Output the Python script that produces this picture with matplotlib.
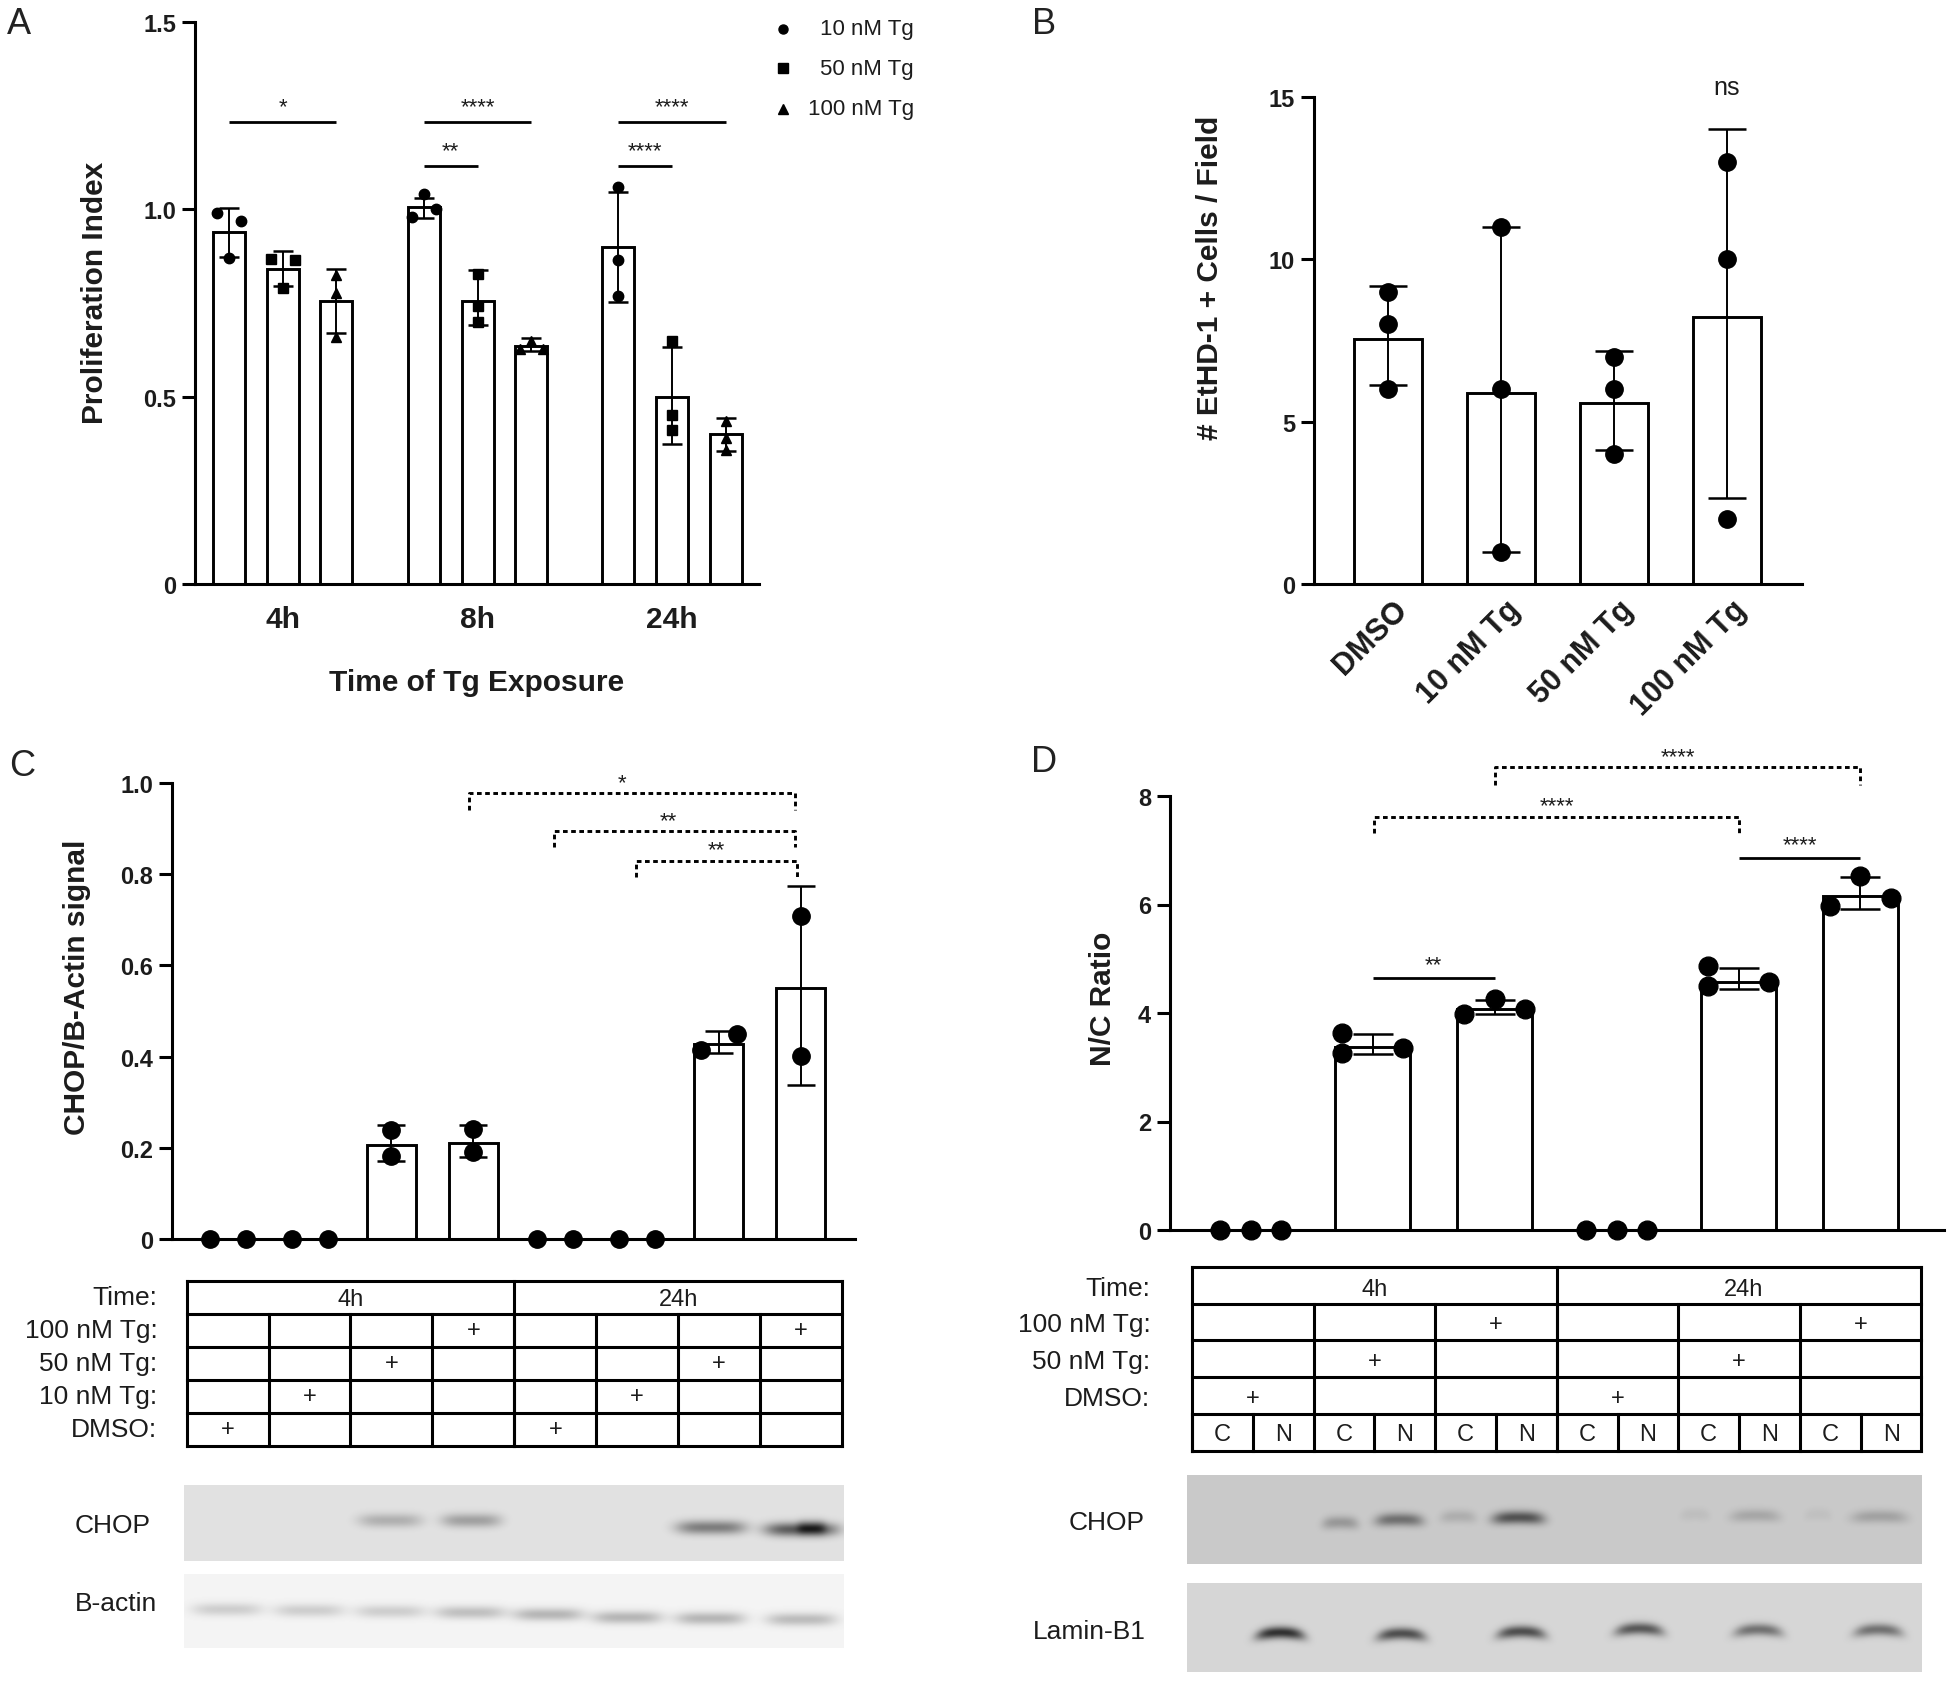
import numpy as np
import matplotlib
matplotlib.use('Agg')
import matplotlib.pyplot as plt

plt.rcParams['font.family'] = ['Liberation Sans', 'DejaVu Sans']

W, H = 1950, 1683
TXT = '#1c1c1c'

# Panel A
a_x = [0, 1, 2, 3.63, 4.63, 5.63, 7.25, 8.25, 9.25]
a_means = [0.94, 0.84, 0.755, 1.005, 0.755, 0.635, 0.90, 0.50, 0.40]
a_low = [0.874, 0.795, 0.67, 0.978, 0.69, 0.623, 0.752, 0.375, 0.354]
a_high = [1.004, 0.888, 0.841, 1.03, 0.837, 0.656, 1.045, 0.632, 0.444]
a_points = [[0.99, 0.97, 0.87], [0.868, 0.866, 0.791], [0.825, 0.776, 0.66],
            [1.04, 1.0, 0.98], [0.828, 0.742, 0.70], [0.648, 0.627, 0.627],
            [1.06, 0.866, 0.77], [0.648, 0.45, 0.41], [0.436, 0.389, 0.358]]
a_offsets = [[-0.22, 0.22, 0], [-0.22, 0.22, 0], [0, 0, 0],
             [0, 0.22, -0.22], [0, 0, 0], [0, -0.22, 0.22],
             [0, 0, 0], [0, 0, 0], [0, 0, 0]]
a_markers = ['o', 's', '^'] * 3
a_groups = ['4h', '8h', '24h']
a_group_x = [1, 4.63, 8.25]
a_sig = [(0, 2, 1.233, '*'), (3.63, 5.63, 1.233, '****'), (7.25, 9.25, 1.233, '****'),
         (3.63, 4.63, 1.116, '**'), (7.25, 8.25, 1.116, '****')]
legend_labels = ['10 nM Tg', '50 nM Tg', '100 nM Tg']

# Panel B
b_labels = ['DMSO', '10 nM Tg', '50 nM Tg', '100 nM Tg']
b_means = [7.56, 5.89, 5.57, 8.22]
b_low = [6.12, 0.99, 4.12, 2.64]
b_high = [9.19, 11, 7.19, 14]
b_points = [[9, 8, 6], [11, 6, 1], [7, 6, 4], [13, 10, 2]]

# Panel C
c_means = [0, 0, 0.206, 0.21, 0, 0, 0.428, 0.55]
c_low = [0, 0, 0.17, 0.18, 0, 0, 0.407, 0.338]
c_high = [0, 0, 0.251, 0.251, 0, 0, 0.457, 0.774]
c_points = [[0, 0], [0, 0], [0.238, 0.183], [0.241, 0.19],
            [0, 0], [0, 0], [0.415, 0.45], [0.709, 0.402]]
c_offsets = [[-0.22, 0.22], [-0.22, 0.22], [0, 0], [0, 0],
             [-0.22, 0.22], [-0.22, 0.22], [-0.22, 0.22], [0, 0]]
# left, right, height, end of the drop, star x, stars
c_sig = [(2.95, 6.93, 0.977, 0.94, 4.82, '*'), (3.99, 6.93, 0.895, 0.859, 5.39, '**'),
         (4.99, 6.96, 0.83, 0.793, 5.97, '**')]

# Panel D
d_means = [0, 3.365, 4.07, 0, 4.58, 6.16]
d_low = [0, 3.24, 3.98, 0, 4.44, 5.92]
d_high = [0, 3.62, 4.24, 0, 4.83, 6.5]
d_points = [[0, 0, 0], [3.63, 3.27, 3.35], [3.98, 4.25, 4.08],
            [0, 0, 0], [4.86, 4.49, 4.57], [5.97, 6.53, 6.12]]
d_offsets = [[-0.25, 0, 0.25], [-0.25, -0.25, 0.25], [-0.25, 0, 0.25],
             [-0.25, 0, 0.25], [-0.25, -0.25, 0.25], [-0.25, 0, 0.25]]
d_dashed = [(2, 5, 8.53, 8.21, 3.5, '****'), (1.01, 4, 7.62, 7.32, 2.51, '****')]
d_solid = [(1, 2, 4.64, '**'), (4, 5, 6.86, '****')]

# Tables
table_c_rows = ['Time:', '100 nM Tg:', '50 nM Tg:', '10 nM Tg:', 'DMSO:']
table_c_plus = [[3, 7], [2, 6], [1, 5], [0, 4]]
table_d_rows = ['Time:', '100 nM Tg:', '50 nM Tg:', 'DMSO:']
table_d_plus = [[2, 5], [1, 4], [0, 3]]
table_times = ['4h', '24h']
table_c_time_x = [2, 6]
table_d_time_x = [1.5, 4.54]
fractions = ['C', 'N']

# Blots: band centre x, centre y, half width, darkness
c_chop_x = [390, 471, 711, 801, 811]
c_chop_y = [1521, 1521, 1528, 1530, 1528]
c_chop_w = [32, 30, 35, 37, 14]
c_chop_dark = [50, 65, 100, 135, 70]
c_actin_x = [227, 309, 390, 470, 548, 627, 710, 801]
c_actin_y = [1610, 1611, 1612, 1613, 1615, 1618, 1619, 1620]
c_actin_dark = [38, 38, 38, 52, 62, 62, 62, 56]
d_chop_x = [1340, 1399, 1458, 1518, 1695, 1755, 1818, 1879]
d_chop_y = [1523, 1520, 1517, 1518, 1515, 1516, 1515, 1517]
d_chop_w = [18, 24, 18, 26, 15, 25, 14, 28]
d_chop_dark = [50, 90, 28, 120, 12, 35, 10, 40]
d_lamin_x = [1280, 1401, 1521, 1639, 1758, 1878]
d_lamin_y = [1633, 1634, 1632, 1629, 1630, 1630]
d_lamin_dark = [165, 135, 135, 125, 100, 100]

fig = plt.figure(figsize=(W / 100, H / 100), dpi=100)


def px_axes(left, top, right, bottom):
    ax = fig.add_axes([left / W, 1 - bottom / H, (right - left) / W, (bottom - top) / H])
    return ax


def style_axis(ax, yticks, ylabels):
    for s in ['top', 'right']:
        ax.spines[s].set_visible(False)
    for s in ['left', 'bottom']:
        ax.spines[s].set_linewidth(2.2)
    ax.set_yticks(yticks)
    ax.set_yticklabels(ylabels, fontsize=17, fontweight='bold', color=TXT)
    ax.tick_params(axis='y', length=9.5, width=2.2, pad=4)
    ax.tick_params(axis='x', length=0)
    ax.patch.set_alpha(0)


def draw_bars(ax, x, means, low, high, points, offsets, markers, ms, width, cap):
    x = np.array(x, dtype=float)
    means = np.array(means, dtype=float)
    low = np.array(low, dtype=float)
    high = np.array(high, dtype=float)
    ax.bar(x, means, width=width, color='white', edgecolor='black', linewidth=2.1)
    keep = means > 0
    ax.errorbar(x[keep], means[keep], yerr=[means[keep] - low[keep], high[keep] - means[keep]],
                fmt='none', ecolor='black', elinewidth=1.4, capsize=cap, capthick=1.8, zorder=4)
    for i in range(len(x)):
        xs = x[i] + np.array(offsets[i])
        ax.plot(xs, points[i], linestyle='none', marker=markers[i], ms=ms, color='black',
                mec='black', clip_on=False, zorder=6)


def stars(ax, x, y, label, lift):
    ax.annotate(label, (x, y), xytext=(0, lift), textcoords='offset points', ha='center',
                va='baseline', fontsize=16, color=TXT, annotation_clip=False)


def solid_bar(ax, x0, x1, y, label, lift):
    ax.plot([x0, x1], [y, y], color='black', lw=2, clip_on=False, solid_capstyle='butt')
    stars(ax, (x0 + x1) / 2, y, label, lift)


def dashed_bracket(ax, x0, x1, y, y_end, star_x, label, lift):
    ax.plot([x0, x0, x1, x1], [y_end, y, y, y_end], color='black', lw=2.1,
            dashes=(1.6, 1.2), clip_on=False)
    stars(ax, star_x, y, label, lift)


def draw_table(box, n_cols, rows, plus, times, time_x, label_gap, nudge=0.0, extra=None):
    ax = px_axes(*box)
    n_rows = len(rows) + (1 if extra else 0)
    ax.set_xlim(0, n_cols)
    ax.set_ylim(n_rows, 0)
    ax.axis('off')
    lw = 2.2
    for r in range(n_rows + 1):
        ax.plot([0, n_cols], [r, r], color='black', lw=lw, clip_on=False, solid_capstyle='projecting')
    ax.plot([0, 0], [0, n_rows], color='black', lw=lw, clip_on=False)
    ax.plot([n_cols, n_cols], [0, n_rows], color='black', lw=lw, clip_on=False)
    ax.plot([n_cols / 2, n_cols / 2], [0, n_rows], color='black', lw=lw, clip_on=False)
    for c in range(1, n_cols):
        ax.plot([c, c], [1, len(rows)], color='black', lw=lw, clip_on=False)
    for t, x in zip(times, time_x):
        ax.text(x, 0.54 + nudge, t, ha='center', va='center', fontsize=17, color=TXT)
    for r, label in enumerate(rows):
        ax.annotate(label, (0, r + 0.5 + nudge), xytext=(label_gap, 0), textcoords='offset points',
                    ha='right', va='center', fontsize=19, color=TXT, annotation_clip=False)
    for r, cols in enumerate(plus):
        for c in cols:
            ax.text(c + 0.5, r + 1.5 + nudge, '+', ha='center', va='center', fontsize=17, color=TXT)
    if extra:
        r = len(rows)
        for c in range(n_cols):
            ax.plot([c, c], [r, r + 1], color='black', lw=lw, clip_on=False)
            ax.plot([c + 0.5, c + 0.5], [r, r + 1], color='black', lw=lw, clip_on=False)
            for j, f in enumerate(extra):
                ax.text(c + 0.25 + 0.5 * j, r + 0.5 + nudge, f, ha='center', va='center', fontsize=17, color=TXT)
    return ax


def draw_blot(box, bg, xs, ys, widths, darks, hh, arch=0.0):
    left, top, right, bottom = box
    ax = px_axes(*box)
    gx, gy = np.meshgrid(np.arange(left, right), np.arange(top, bottom))
    img = np.full(gx.shape, float(bg))
    for x0, y0, w, d in zip(xs, ys, widths, darks):
        u = (gx - x0) / w
        img -= d * np.exp(-u ** 4) * np.exp(-((gy - y0 - arch * u ** 2) / hh) ** 2)
    ax.imshow(np.clip(img, 0, 255), cmap='gray', vmin=0, vmax=255, aspect='auto',
              extent=(left, right, bottom, top), interpolation='bilinear')
    ax.axis('off')


# A
ax_a = px_axes(195, 23, 759, 585)
ax_a.set_xlim(-0.633, 9.87)
ax_a.set_ylim(0, 1.5)
style_axis(ax_a, [0, 0.5, 1.0, 1.5], ['0', '0.5', '1.0', '1.5'])
draw_bars(ax_a, a_x, a_means, a_low, a_high, a_points, a_offsets, a_markers, 7.5, 0.6, 7.2)
ax_a.set_xticks(a_group_x)
ax_a.set_xticklabels(a_groups, fontsize=21.5, fontweight='bold', color=TXT)
ax_a.tick_params(axis='x', pad=15)
ax_a.set_xlabel('Time of Tg Exposure', fontsize=21.5, fontweight='bold', color=TXT, labelpad=25)
ax_a.set_ylabel('Proliferation Index', fontsize=21.5, fontweight='bold', color=TXT)
ax_a.yaxis.set_label_coords(-0.152, 0.52)
for x0, x1, y, label in a_sig:
    solid_bar(ax_a, x0, x1, y, label, 7)

# B
ax_b = px_axes(1314, 98, 1802, 585)
ax_b.set_xlim(-0.656, 3.665)
ax_b.set_ylim(0, 15)
style_axis(ax_b, [0, 5, 10, 15], ['0', '5', '10', '15'])
b_x = list(range(len(b_means)))
draw_bars(ax_b, b_x, b_means, b_low, b_high, b_points, [[0, 0, 0]] * 4, ['o'] * 4, 12.5, 0.6, 13.7)
ax_b.set_xticks([])
for i, label in enumerate(b_labels):
    ax_b.annotate(label, (i, 0), xytext=(3, -7), textcoords='offset points', ha='right', va='top',
                  rotation=45, rotation_mode='anchor', fontsize=22, fontweight='bold', color=TXT,
                  annotation_clip=False)
ax_b.set_ylabel('# EtHD-1 + Cells / Field', fontsize=21.5, fontweight='bold', color=TXT)
ax_b.yaxis.set_label_coords(-0.185, 0.63)
ax_b.text(3, 15.3, 'ns', ha='center', va='center', fontsize=18, color=TXT, clip_on=False)

# C
ax_c = px_axes(172, 784, 855, 1240)
ax_c.set_xlim(-0.683, 7.666)
ax_c.set_ylim(0, 1.0)
style_axis(ax_c, [0, 0.2, 0.4, 0.6, 0.8, 1.0], ['0', '0.2', '0.4', '0.6', '0.8', '1.0'])
c_x = list(range(len(c_means)))
draw_bars(ax_c, c_x, c_means, c_low, c_high, c_points, c_offsets, ['o'] * 8, 12.5, 0.6, 10.4)
ax_c.set_xticks([])
ax_c.set_ylabel('CHOP/B-Actin signal', fontsize=21.5, fontweight='bold', color=TXT)
ax_c.yaxis.set_label_coords(-0.118, 0.555)
for x0, x1, y, y_end, star_x, label in c_sig:
    dashed_bracket(ax_c, x0, x1, y, y_end, star_x, label, 3.5)

# D
ax_d = px_axes(1170, 797, 1944, 1231)
ax_d.set_xlim(-0.664, 5.685)
ax_d.set_ylim(0, 8)
style_axis(ax_d, [0, 2, 4, 6, 8], ['0', '2', '4', '6', '8'])
d_x = list(range(len(d_means)))
draw_bars(ax_d, d_x, d_means, d_low, d_high, d_points, d_offsets, ['o'] * 6, 13.5, 0.615, 14.7)
ax_d.set_xticks([])
ax_d.set_ylabel('N/C Ratio', fontsize=21.5, fontweight='bold', color=TXT)
ax_d.yaxis.set_label_coords(-0.069, 0.535)
for x0, x1, y, y_end, star_x, label in d_dashed:
    dashed_bracket(ax_d, x0, x1, y, y_end, star_x, label, 4)
for x0, x1, y, label in d_solid:
    solid_bar(ax_d, x0, x1, y, label, 5.5)

# tables
draw_table((186.6, 1282, 842, 1446.5), 8, table_c_rows, table_c_plus, table_times, table_c_time_x, -21)
draw_table((1192, 1268, 1921.5, 1451.5), 6, table_d_rows, table_d_plus, table_times, table_d_time_x, -30,
           nudge=0.06, extra=fractions)

# blots
draw_blot((184, 1486, 844, 1562), 226, c_chop_x, c_chop_y, c_chop_w, c_chop_dark, 7)
draw_blot((184, 1575, 844, 1649), 244, c_actin_x, c_actin_y, [35] * 8, c_actin_dark, 6.5)
draw_blot((1187, 1476, 1922, 1565), 202, d_chop_x, d_chop_y, d_chop_w, d_chop_dark, 6.5, 1.5)
draw_blot((1187, 1584, 1922, 1673), 214, d_lamin_x, d_lamin_y, [24] * 6, d_lamin_dark, 6, 3.5)

# overlay in pixel positions for panel letters, blot names and the legend
canvas = fig.add_axes([0, 0, 1, 1])
canvas.set_xlim(0, W)
canvas.set_ylim(H, 0)
canvas.axis('off')
for letter, x, y in [('A', 19, 24), ('B', 1044, 24), ('C', 22, 767), ('D', 1044, 763)]:
    canvas.text(x, y, letter, ha='center', va='center', fontsize=26, color='#222222')
for name, x, y in [('CHOP', 151, 1526), ('B-actin', 157, 1604), ('CHOP', 1145, 1523), ('Lamin-B1', 1146, 1632)]:
    canvas.text(x, y, name, ha='right', va='center', fontsize=19, color=TXT)
for label, marker, y in zip(legend_labels, ['o', 's', '^'], [30, 69, 110]):
    canvas.plot([783], [y], marker=marker, ms=6.5, color='black', linestyle='none')
    canvas.text(914, y, label, ha='right', va='center', fontsize=16, color=TXT)

fig.savefig('out.png', dpi=100, facecolor='white')
